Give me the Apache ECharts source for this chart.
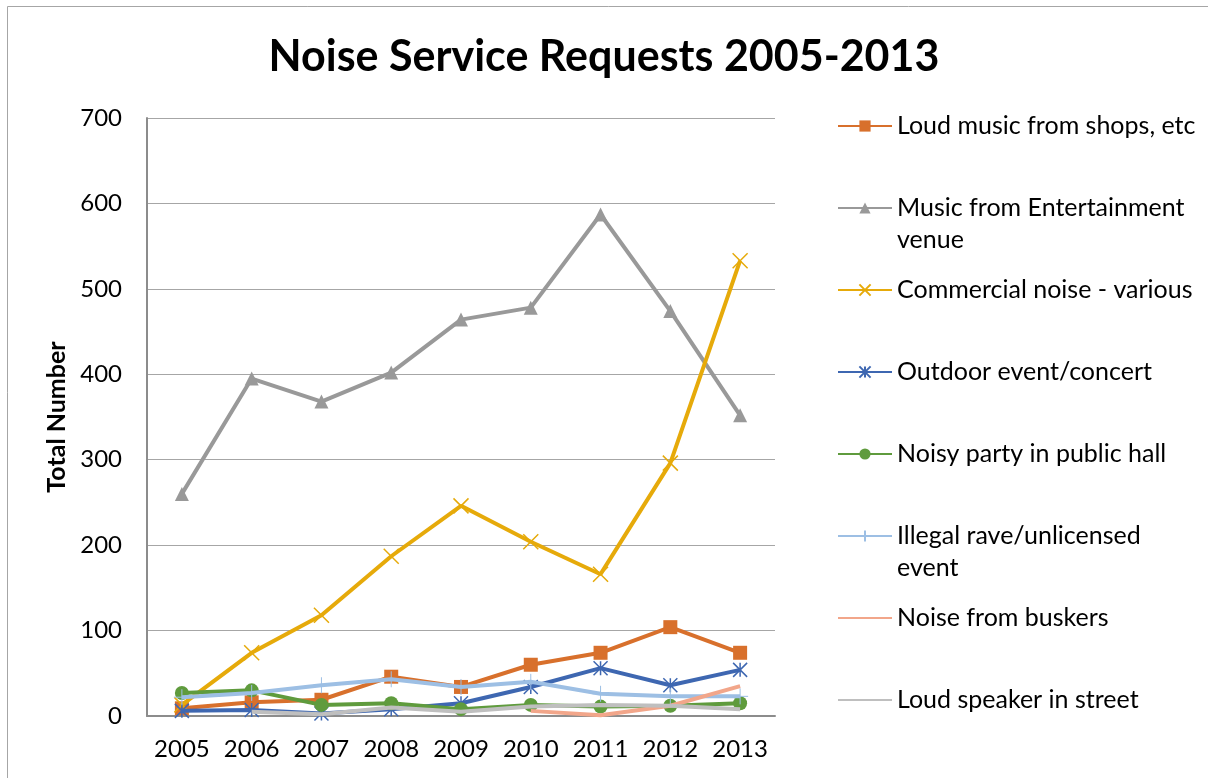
<!DOCTYPE html>
<html>
<head>
<meta charset="utf-8">
<script src="https://cdn.jsdelivr.net/npm/echarts@6/dist/echarts.min.js"></script>
<style>
  html, body { margin: 0; padding: 0; background: #ffffff; }
  #chart { width: 1208px; height: 778px; }
</style>
</head>
<body>
<div id="chart"></div>
<script>
// Years on the category axis
const years = ['2005', '2006', '2007', '2008', '2009', '2010', '2011', '2012', '2013'];

// Total noise service requests per category and year
const loudMusicShops   = [9, 16, 19, 46, 34, 60, 74, 104, 74];
const entertainment    = [260, 395, 368, 402, 464, 478, 587, 474, 352];
const commercialNoise  = [13, 74, 118, 187, 246, 204, 166, 296, 533];
const outdoorEvent     = [6, 7, 3, 8, 15, 34, 56, 36, 54];
const noisyParty       = [27, 30, 13, 15, 8, 13, 11, 12, 15];
const illegalRave      = [22, 27, 36, 43, 34, 40, 26, 23, 23];
const buskers          = [null, null, null, null, null, 6, 1, 12, 35];
const loudSpeaker      = [null, 5, 2, 10, 5, 11, 13, 12, 8];

// Series names as shown in the legend (\n marks the wrapped line)
const names = [
  'Loud music from shops, etc',
  'Music from Entertainment\nvenue',
  'Commercial noise - various',
  'Outdoor event/concert',
  'Noisy party in public hall',
  'Illegal rave/unlicensed\nevent',
  'Noise from buskers',
  'Loud speaker in street'
];

const yTicks = { min: 0, max: 700, interval: 100 };

const FONT = 'Lato, "Open Sans", sans-serif';

// Stroke-only marker shapes
const CROSS = 'path://M0,0L10,10M10,0L0,10';
const ASTERISK = 'path://M0,0L10,10M10,0L0,10M5,0L5,10';
const PLUS = 'path://M0,5L10,5M5,0L5,10';

const seriesDefs = [
  { data: loudMusicShops,  color: '#D8702C', symbol: 'rect',     size: 14, width: 4 },
  { data: entertainment,   color: '#999999', symbol: 'triangle', size: 14, width: 4 },
  { data: commercialNoise, color: '#E6AA0A', symbol: CROSS,      size: 15, width: 4, stroke: 1.5 },
  { data: outdoorEvent,    color: '#3E67B1', symbol: ASTERISK,   size: 14, width: 4, stroke: 1.5 },
  { data: noisyParty,      color: '#5F9B3D', symbol: 'circle',   size: 14, width: 4 },
  { data: illegalRave,     color: '#9DBFE4', symbol: PLUS,       size: 16, width: 4, stroke: 1 },
  { data: buskers,         color: '#F2A68A', symbol: 'none',     size: 0,  width: 4 },
  { data: loudSpeaker,     color: '#BFBFBF', symbol: 'none',     size: 0,  width: 4 }
];

const series = seriesDefs.map((d, i) => {
  const plain = d.symbol === 'none';
  return {
    name: names[i],
    type: 'line',
    data: d.data,
    symbol: d.symbol,
    symbolSize: d.size,
    showSymbol: !plain,
    connectNulls: false,
    lineStyle: { color: d.color, width: d.width },
    itemStyle: {
      color: (d.stroke || plain) ? 'rgba(0,0,0,0)' : d.color,
      borderColor: plain ? 'rgba(0,0,0,0)' : d.color,
      borderWidth: d.stroke || 0
    },
    emphasis: { disabled: true },
    z: 2 + i
  };
});

// One legend block per entry so that each sits on a fixed 82px pitch;
// wrapped entries get a blank leading line so the marker stays level
// with their first line of text.
const LEGEND_TOP = 110;
const LEGEND_STEP = 82;
const LINE_H = 32;
const legends = names.map((n, i) => {
  const wrapped = n.indexOf('\n') >= 0;
  return {
    data: [n],
    orient: 'vertical',
    left: 837,
    top: LEGEND_TOP + i * LEGEND_STEP - (wrapped ? LINE_H : 0),
    padding: 0,
    itemWidth: 54,
    itemHeight: 14,
    selectedMode: false,
    formatter: wrapped ? (name) => ' \n' + name : (name) => name,
    textStyle: {
      fontFamily: FONT,
      fontSize: 25,
      color: '#000000',
      lineHeight: LINE_H
    }
  };
});

const chart = echarts.init(document.getElementById('chart'), null, { renderer: 'canvas' });

chart.setOption({
  animation: false,
  backgroundColor: '#ffffff',
  title: {
    text: 'Noise Service Requests 2005-2013',
    left: 'center',
    top: 31,
    textStyle: { fontFamily: FONT, fontSize: 43, fontWeight: 'bold', color: '#000000' }
  },
  graphic: [{
    type: 'rect',
    shape: { x: 7.5, y: 6.5, width: 1400, height: 1000 },
    style: { fill: null, stroke: '#A6A6A6', lineWidth: 1 },
    silent: true,
    z: -1
  }],
  legend: legends,
  grid: { left: 147, right: 433, top: 118, bottom: 62 },
  xAxis: {
    type: 'category',
    data: years,
    boundaryGap: true,
    axisLine: { show: true, lineStyle: { color: '#8C8C8C', width: 2 } },
    axisTick: { show: false },
    axisLabel: {
      interval: 0,
      hideOverlap: false,
      fontFamily: FONT, fontSize: 24, color: '#000000', margin: 21
    }
  },
  yAxis: {
    type: 'value',
    min: yTicks.min,
    max: yTicks.max,
    interval: yTicks.interval,
    name: 'Total Number',
    nameLocation: 'middle',
    nameRotate: 90,
    nameGap: 75,
    nameTextStyle: { fontFamily: FONT, fontSize: 25, fontWeight: 'bold', color: '#000000' },
    axisLine: { show: true, lineStyle: { color: '#8C8C8C', width: 2 } },
    axisTick: { show: false },
    splitLine: { show: true, lineStyle: { color: '#A6A6A6', width: 1 } },
    axisLabel: { fontFamily: FONT, fontSize: 24, color: '#000000', margin: 25 }
  },
  series: series
});
</script>
</body>
</html>
